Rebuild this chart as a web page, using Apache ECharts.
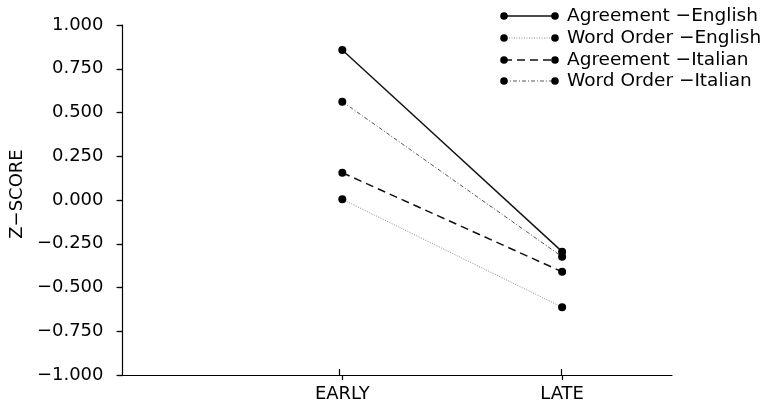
<!DOCTYPE html>
<html>
<head>
<meta charset="utf-8">
<script src="https://cdn.jsdelivr.net/npm/echarts@6/dist/echarts.min.js"></script>
<style>
  html, body { margin: 0; padding: 0; background: #fff; }
  #chart { width: 777px; height: 405px; }
</style>
</head>
<body>
<div id="chart"></div>
<script>
// Phases on the horizontal axis
const categories = ['EARLY', 'LATE'];

// Z-scores per condition, one value per phase
const agreementEnglish = [0.857, -0.295];
const wordOrderEnglish = [0.004, -0.613];
const agreementItalian = [0.156, -0.410];
const wordOrderItalian = [0.562, -0.324];

const seriesNames = [
  'Agreement \u2212English',
  'Word Order \u2212English',
  'Agreement \u2212Italian',
  'Word Order \u2212Italian'
];

// Y-axis tick values
const yTicks = [-1, -0.75, -0.5, -0.25, 0, 0.25, 0.5, 0.75, 1];

const FONT = 'DejaVu Sans';

const lineStyles = [
  { color: '#111', width: 1.4, type: 'solid' },
  { color: '#888', width: 1, type: [1, 1.5] },
  { color: '#111', width: 1.5, type: [8, 5] },
  { color: '#555', width: 1, type: [4, 2, 1, 2] }
];
const values = [agreementEnglish, wordOrderEnglish, agreementItalian, wordOrderItalian];

// category index i sits at x = i + 1 on a 0..2.5 value scale
const toPoints = arr => arr.map((v, i) => [i + 1, v]);

const series = values.map((arr, k) => ({
  name: seriesNames[k],
  type: 'line',
  xAxisIndex: 0,
  yAxisIndex: 0,
  data: toPoints(arr),
  symbol: 'circle',
  symbolSize: 8,
  itemStyle: { color: '#000' },
  lineStyle: lineStyles[k],
  z: 3,
  animation: false
}));

// empty series that keeps the overlay grid (inner tick halves) alive
series.push({ type: 'line', xAxisIndex: 1, yAxisIndex: 1, data: [], silent: true });

// Legend drawn as dot–line–dot samples followed by the label
const legendGraphics = [];
const legendRows = [16, 38, 60, 81];
seriesNames.forEach((name, k) => {
  const y = legendRows[k];
  legendGraphics.push({
    type: 'line', shape: { x1: 504, y1: y, x2: 555, y2: y },
    style: { stroke: lineStyles[k].color, lineWidth: lineStyles[k].width,
             lineDash: lineStyles[k].type === 'solid' ? null : lineStyles[k].type }
  });
  legendGraphics.push({ type: 'circle', shape: { cx: 504, cy: y, r: 3.8 }, style: { fill: '#000' } });
  legendGraphics.push({ type: 'circle', shape: { cx: 555, cy: y, r: 3.8 }, style: { fill: '#000' } });
  legendGraphics.push({
    type: 'text', x: 567, y: y,
    style: { text: name, font: '18.5px "' + FONT + '"', fill: '#000', textVerticalAlign: 'middle' }
  });
});

const tickCustom = [1, 2];
const tickStyle = { color: '#000', width: 1.2 };
const axisLineStyle = { color: '#000', width: 1.2 };
const gridBox = { left: 118, right: 105, top: 25, bottom: 30, containLabel: false };

const option = {
  backgroundColor: '#fff',
  animation: false,
  grid: [Object.assign({}, gridBox), Object.assign({}, gridBox)],
  xAxis: [
    {
      type: 'value', gridIndex: 0, min: 0, max: 2.5, interval: 0.5,
      axisLine: { show: true, onZero: false, lineStyle: axisLineStyle },
      axisTick: { show: true, customValues: tickCustom, length: 5, lineStyle: tickStyle },
      axisLabel: {
        customValues: tickCustom,
        formatter: v => categories[Math.round(v) - 1] || '',
        color: '#000', fontFamily: FONT, fontSize: 18, margin: 10
      },
      splitLine: { show: false }
    },
    {
      // upper half of the crossing ticks
      type: 'value', gridIndex: 1, min: 0, max: 2.5, interval: 0.5, position: 'bottom',
      axisLine: { show: false, onZero: false },
      axisTick: { show: true, inside: true, customValues: tickCustom, length: 6, lineStyle: tickStyle },
      axisLabel: { show: false },
      splitLine: { show: false }
    }
  ],
  yAxis: [
    {
      type: 'value', gridIndex: 0, min: -1, max: 1, interval: 0.25,
      name: 'Z\u2212SCORE', nameLocation: 'middle', nameRotate: 90, nameGap: 88,
      nameTextStyle: { color: '#000', fontFamily: FONT, fontSize: 18, padding: [0, 0, 0, 12] },
      axisLine: { show: true, onZero: false, lineStyle: axisLineStyle },
      axisTick: { show: true, length: 6, lineStyle: tickStyle },
      axisLabel: {
        customValues: yTicks,
        formatter: v => (v < 0 ? '\u2212' : '') + Math.abs(v).toFixed(3),
        color: '#000', fontFamily: FONT, fontSize: 18, margin: 19
      },
      splitLine: { show: false }
    },
    {
      // right half of the crossing ticks
      type: 'value', gridIndex: 1, min: -1, max: 1, interval: 0.25, position: 'left',
      axisLine: { show: false, onZero: false },
      axisTick: { show: true, inside: true, length: 5, lineStyle: tickStyle },
      axisLabel: { show: false },
      splitLine: { show: false }
    }
  ],
  series: series,
  graphic: legendGraphics
};

const chart = echarts.init(document.getElementById('chart'), null, { renderer: 'canvas' });
chart.setOption(option);
</script>
</body>
</html>
